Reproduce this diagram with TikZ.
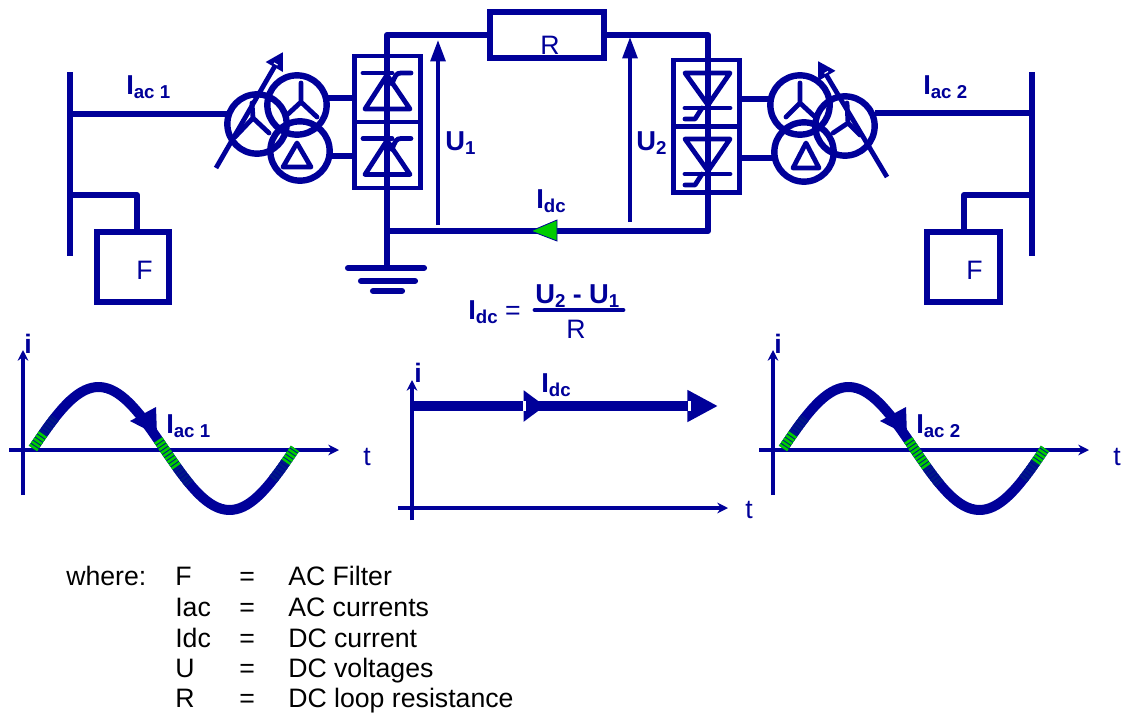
\documentclass[tikz,border=0pt]{standalone}
\usepackage{fontspec}
\setmainfont{Liberation Sans}
\usepackage{xcolor}
\usetikzlibrary{arrows.meta}
\definecolor{hvdcblue}{RGB}{0,0,153}
\definecolor{hvdcgreen}{RGB}{0,204,0}
\newcommand{\bigtxt}{\fontsize{20}{24}\selectfont}
\newcommand{\sublab}[2]{{\bfseries\fontsize{20.5}{24}\selectfont #1\raisebox{-3.2pt}{\fontsize{14}{16}\selectfont #2}}}
\tikzset{
  wire/.style={line width=4.6pt,hvdcblue,line join=round},
  sym/.style={line width=3.6pt,hvdcblue,line join=round,line cap=round},
  coil/.style={circle,draw=hvdcblue,line width=4.8pt,minimum size=44.5pt,inner sep=0pt,outer sep=0pt},
  block/.style={rectangle,draw=hvdcblue,line width=4.6pt,inner sep=0pt,outer sep=0pt,text=hvdcblue,font=\bigtxt},
  valve/.style={block,line width=3.6pt,minimum width=49pt},
  lab/.style={anchor=base west,inner sep=0pt,text=hvdcblue,font=\bigtxt},
  legend/.style={anchor=base west,inner sep=0pt,text=black,font=\bigtxt},
  axis/.style={line width=2.4pt,hvdcblue,-{Stealth[length=8pt,width=8pt]}},
  meas/.style={line width=2.8pt,hvdcblue,-{Triangle[length=16pt,width=11pt]}},
  setpoint/.style={line width=3.6pt,hvdcblue,-{Triangle[length=13pt,width=14pt]}}
}
\begin{document}
\begin{tikzpicture}[x=0.75pt,y=-0.75pt,>=Latex]
  \useasboundingbox (0,0) rectangle (1122,714);
  % DC loop
  \node[block,minimum width=85.5pt,minimum height=35pt] (res) at (547,35) {};
  \node[lab,anchor=base] (restxt) at (550,54) {R};
  \node[valve,minimum height=49.5pt] (vl1) at (387.5,89) {};
  \node[valve,minimum height=49.5pt] (vl2) at (387.5,155) {};
  \node[valve,minimum height=49.5pt] (vr1) at (706.5,93) {};
  \node[valve,minimum height=50pt] (vr2) at (706.5,159.5) {};
  \coordinate (topl) at (387,35);
  \coordinate (topr) at (708,35);
  \coordinate (botl) at (387,231);
  \coordinate (botr) at (708,231);
  \coordinate (gnd) at (387,268);
  \draw[wire] (res.west) -- (topl) -- (387,188);
  \draw[wire] (res.east) -- (topr) -- (botr) -- (botl);
  \draw[wire] (387,188) -- (gnd);
  \draw[wire,line cap=round] (348,268) -- (424,268);
  \draw[wire,line cap=round] (361,281) -- (415,281);
  \draw[wire,line cap=round] (373,291) -- (402,291);
  \draw[fill=hvdcgreen,draw=hvdcblue,line width=0.6pt] (531,231) -- (557,220) -- (557,241) -- cycle;
  % Thyristors
  \foreach \dy in {0,65.5} {
    \draw[sym] (387,75+\dy) -- (365,109+\dy) -- (410,109+\dy) -- cycle;
    \draw[sym] (363,73+\dy) -- (392,73+\dy);
    \draw[sym] (392,84+\dy) .. controls (395,76+\dy) and (396,73+\dy) .. (401,73+\dy) -- (411,73+\dy);
  }
  \foreach \dy in {0,66} {
    \draw[sym] (708,105+\dy) -- (685,73+\dy) -- (730,73+\dy) -- cycle;
    \draw[sym] (685,108+\dy) -- (730,108+\dy);
    \draw[sym] (685,119+\dy) -- (695,119+\dy) -- (702,108+\dy);
  }
  % Left transformer
  \node[coil] (tl1) at (257,124) {};
  \node[coil] (tl2) at (297,105) {};
  \node[coil] (tl3) at (300,151) {};
  \draw[sym] (253,118) -- (252,103) (253,118) -- (269,133) (253,118) -- (235,137);
  \draw[sym] (301,102) -- (301,83) (301,102) -- (287,115) (301,102) -- (317,117);
  \draw[sym] (297,143) -- (283,167) -- (311,167) -- cycle;
  \draw[setpoint] (216,168) -- (283,52);
  \draw[white,line width=0.9pt] (274,63) -- (277.5,65);
  \draw[wire] (tl2) ++(29,-7) -- (vl1.west |- 0,98);
  \draw[wire] (tl3) ++(30,5) -- (vl2.west |- 0,156);
  % Right transformer
  \node[coil] (tr1) at (800,105) {};
  \node[coil] (tr2) at (804,152) {};
  \node[coil] (tr3) at (845,126) {};
  \draw[sym] (800,103) -- (800,83) (800,103) -- (786,117) (800,103) -- (814,116);
  \draw[sym] (848,123) -- (847,103) (848,123) -- (833,133) (848,123) -- (860,135);
  \draw[sym] (806,143) -- (793,168) -- (819,168) -- cycle;
  \draw[setpoint] (887,177) -- (818,61);
  \draw[white,line width=0.9pt] (824.5,73.5) -- (828,71.5);
  \draw[wire] (vr1.east |- 0,99) -- (773,99);
  \draw[wire] (vr2.east |- 0,158) -- (776,158);
  % AC busbars and filters
  \coordinate (busl) at (70,114);
  \coordinate (busr) at (1032,113);
  \draw[wire] (70,72) -- (70,256);
  \draw[wire] (1032,72) -- (1032,256);
  \draw[wire] (busl) -- (tl1.west |- busl);
  \draw[wire] (tr3.east |- busr) -- (busr);
  \node[block,minimum width=54pt,minimum height=53pt] (fl) at (133,267) {};
  \node[block,minimum width=55pt,minimum height=53pt] (fr) at (963.5,267) {};
  \node[lab] (fltxt) at (136,279) {F};
  \node[lab] (frtxt) at (966,279) {F};
  \draw[wire] (70,195) -| (137,231);
  \draw[wire] (1032,195) -| (964,231);
  % Voltages and current labels
  \draw[meas] (438,225) -- (438,40);
  \draw[meas] (630,222) -- (630,37);
  \node[lab] (iac1) at (126,94) {\sublab{I}{ac 1}};
  \node[lab] (iac2) at (923,94) {\sublab{I}{ac 2}};
  \node[lab] (u1) at (445,150) {\sublab{U}{1}};
  \node[lab] (u2) at (636,150) {\sublab{U}{2}};
  \node[lab] (idc) at (536,208) {\sublab{I}{dc}};
  % Formula
  \node[lab] (fidc) at (468,319) {\sublab{I}{dc} =};
  \node[lab] (fnum) at (535,303) {\sublab{U}{2}\textbf{ - }\sublab{U}{1}};
  \node[lab,anchor=base] (fden) at (576,338) {R};
  \draw[wire,line cap=round,line width=3.6pt] (535,310) -- (623,310);
  % AC current plots
  \foreach \ofs/\num in {0/1,750/2} {
    \begin{scope}[shift={(\ofs,0)}]
      \draw[axis] (23,495) -- (23,350);
      \draw[axis] (9,450) -- (339,450);
      \draw[line width=7.5pt,hvdcblue] plot[domain=0:360,samples=72] ({33+\x*0.7278},{448.5-61.5*sin(\x)});
      \foreach \a/\b/\mix in {0/14/100,14/30/12,172/198/100,198/215/12,347/360/100,330/347/12} {
        \draw[line width=7.5pt,hvdcgreen!\mix!hvdcblue,dash pattern=on 2pt off 0.8pt] plot[domain=\a:\b,samples=12] ({33+\x*0.7278},{448.5-61.5*sin(\x)});
      }
      \fill[hvdcblue] (130,421) -- (156,407) -- (157,435) -- cycle;
      \node[lab] (wave\num) at (166,433) {\sublab{I}{ac \num}};
      \node[lab] (cur\num) at (24,353) {\textbf{i}};
      \node[lab] (time\num) at (363,465) {t};
    \end{scope}
  }
  % DC current plot
  \draw[axis] (412,520) -- (412,380);
  \draw[axis] (398,508) -- (728,508);
  \coordinate (dcs) at (412,406);
  \coordinate (dcj) at (530,406);
  \coordinate (dcm) at (545,406);
  \coordinate (dce) at (718,406);
  \draw[line width=8.2pt,hvdcblue,-{Triangle[length=23pt,width=22.5pt]}] (dcj) -- (dce);
  \draw[line width=8.2pt,hvdcblue,-{Triangle[length=16pt,width=22.5pt]}] (dcs) -- (dcm);
  \fill[white] (523,401) rectangle (526,411);
  \fill[white] (688,401) rectangle (691,411);
  \node[lab] (dclab) at (541,392) {\sublab{I}{dc}};
  \node[lab] (curdc) at (414,382) {\textbf{i}};
  \node[lab] (timedc) at (745,518) {t};
  % Legend
  \node[legend] (wh) at (66,585) {where:};
  \foreach \yy/\sy/\txt [count=\n] in {585/F/AC Filter,616/Iac/AC currents,647/Idc/DC current,677/U/DC voltages,707/R/DC loop resistance} {
    \node[legend] (sym\n) at (175,\yy) {\sy};
    \node[legend] (eq\n) at (239,\yy) {=};
    \node[legend] (txt\n) at (288,\yy) {\txt};
  }
\end{tikzpicture}
\end{document}
